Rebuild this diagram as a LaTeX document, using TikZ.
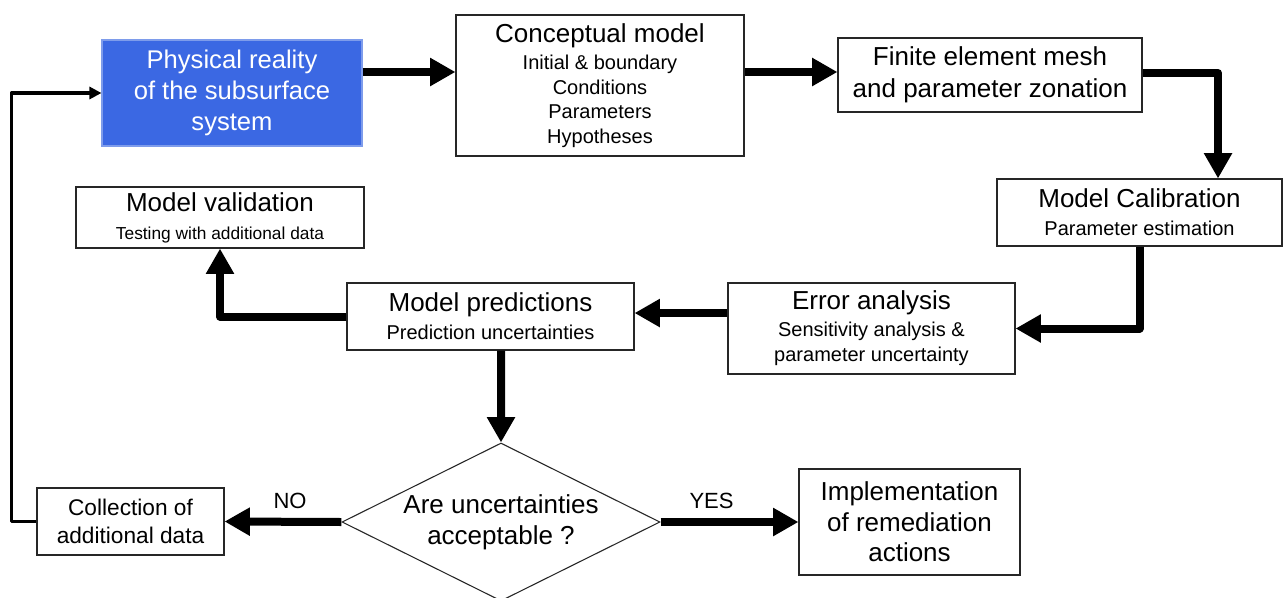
\documentclass[tikz,border=0pt]{standalone}
\usepackage{fontspec}
\setmainfont{Liberation Sans}
\usetikzlibrary{shapes.geometric, arrows.meta, positioning}
\definecolor{realblue}{HTML}{3B68E3}
\definecolor{realedge}{HTML}{7E9CEB}
\newcommand{\bigtxt}{\fontsize{19.5}{23.4}\selectfont}

\begin{document}
\begin{tikzpicture}[x=0.75pt, y=-0.75pt,
	box/.style={draw=black!85, line width=0.8pt, fill=white, inner sep=0pt, align=center},
	flow/.style={line width=6pt, line join=round, -{Triangle[length=19pt, width=20pt]}},
	back/.style={line width=2.4pt, line join=round, -{Triangle[length=9pt, width=9pt]}},
	lbl/.style={font=\fontsize{16.5}{19}\selectfont}]
	\path[use as bounding box, fill=white] (0,0) rectangle (1283,597);

	% boxes
	\node[box, fill=realblue, draw=realedge, text=white, font=\fontsize{19.2}{23.25}\selectfont, minimum width=195pt, minimum height=79.5pt] (reality) at (232,93) {Physical reality\\of the subsurface\\system};
	\node[box, font=\fontsize{15}{18.4}\selectfont, minimum width=216pt, minimum height=105.75pt] (concept) at (600,85.5) {{\bigtxt Conceptual model}\\[1.9pt]Initial \& boundary\\Conditions\\Parameters\\Hypotheses};
	\node[box, font=\fontsize{19.5}{24}\selectfont, minimum width=228pt, minimum height=55.5pt] (mesh) at (990,75) {Finite element mesh\\and parameter zonation};
	\node[box, font=\fontsize{15}{21}\selectfont, minimum width=213.75pt, minimum height=50.25pt] (calib) at (1139.5,212.5) {{\bigtxt Model Calibration}\\Parameter estimation};
	\node[box, font=\fontsize{15}{18.75}\selectfont, minimum width=215.25pt, minimum height=68.25pt] (error) at (871.5,328.5) {{\bigtxt Error analysis}\\[1.5pt]Sensitivity analysis \&\\parameter uncertainty};
	\node[box, font=\fontsize{15}{21}\selectfont, minimum width=215.25pt, minimum height=50.25pt] (predict) at (490.5,316.5) {{\bigtxt Model predictions}\\Prediction uncertainties};
	\node[box, font=\fontsize{13}{21}\selectfont, minimum width=216pt, minimum height=45.75pt] (valid) at (220,217.5) {{\bigtxt Model validation}\\Testing with additional data};
	\node[box, font=\fontsize{17}{21}\selectfont, minimum width=140.25pt, minimum height=50.25pt] (collect) at (130.5,521.5) {Collection of\\additional data};
	\node[box, shape=diamond, aspect=2, font=\fontsize{19.5}{23.25}\selectfont, minimum width=238.5pt, minimum height=118.5pt] (accept) at (501,522) {Are uncertainties\\acceptable ?};
	\node[box, font=\fontsize{19.5}{22.9}\selectfont, minimum width=165.75pt, minimum height=79.5pt] (remedy) at (909.5,522) {Implementation\\of remediation\\actions};

	% connectors
	\draw[flow] ([yshift=15.75pt]reality.east) -- ([yshift=10.125pt]concept.west);
	\draw[flow] ([yshift=10.125pt]concept.east) -- ([yshift=2.25pt]mesh.west);
	\draw[flow] ([yshift=1.5pt]mesh.east) -| ([xshift=58.9pt]calib.north);
	\draw[flow] (calib.south) |- (error.east);
	\draw[flow] ([yshift=11.6pt]error.west) -- ([yshift=2.6pt]predict.east);
	\draw[flow] (predict.west) -| (valid.south);
	\draw[flow] ([xshift=7.9pt]predict.south) -- (accept.north);
	\draw[flow] (accept.west) -- (collect.east) node[lbl, above=3.5pt, pos=0.44] (no) {NO};
	\draw[flow] (accept.east) -- (remedy.west) node[lbl, above=3.5pt, pos=0.37] (yes) {YES};
	\draw[back] (collect.west) -- ++(-25,0) |- (reality.west);
\end{tikzpicture}
\end{document}
